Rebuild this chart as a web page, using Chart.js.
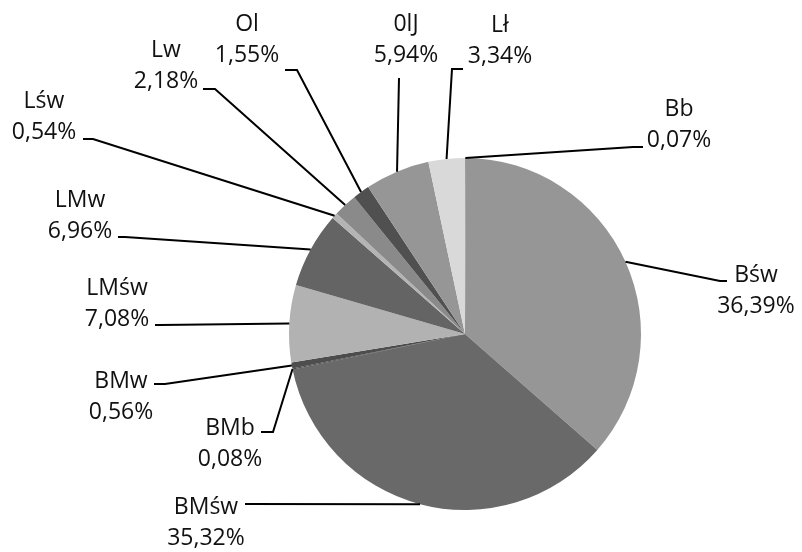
<!DOCTYPE html>
<html>
<head>
<meta charset="utf-8">
<script src="https://cdn.jsdelivr.net/npm/chart.js@4.4.1/dist/chart.umd.min.js"></script>
<style>
  html, body { margin: 0; padding: 0; background: #fff; }
  #wrap { width: 802px; height: 552px; }
</style>
</head>
<body>
<div id="wrap"><canvas id="pie" width="802" height="552"></canvas></div>
<script>
// ── data ──
const LABELS = ['Bb', 'Bśw', 'BMśw', 'BMb', 'BMw', 'LMśw', 'LMw', 'Lśw', 'Lw', 'Ol', '0lJ', 'Lł'];
const VALUES = [0.07, 36.39, 35.32, 0.08, 0.56, 7.08, 6.96, 0.54, 2.18, 1.55, 5.94, 3.34];
const COLORS = ['#7f7f7f', '#969696', '#696969', '#3f3f3f', '#4d4d4d', '#b2b2b2',
                '#646464', '#b4b4b4', '#8a8a8a', '#505050', '#969696', '#d9d9d9'];

// ── label layout: text centre x, first line y ──
const TEXT_POS = [
    [679, 109], [756, 275], [206, 507], [230, 428], [121, 381], [117, 288],
    [80, 200], [44, 101], [166, 50], [247, 24], [406, 24], [500, 25]
];
// leader start (near text) and elbow point; the line then runs to the slice
const LEADERS = [
    [643, 147, 633, 147], [727, 281, 720, 281], [245, 504, 245, 504],
    [261, 432, 273, 432], [154, 384, 165, 384], [155, 325, 160, 325],
    [118, 237, 125, 237], [83, 139, 93, 139], [203, 89, 215, 89],
    [285, 70, 297, 70], [399, 78, 399, 78], [463, 69, 452, 69]
];

const fmt = v => v.toFixed(2).replace('.', ',') + '%';

const leaderLabels = {
    id: 'leaderLabels',
    afterDraw(chart) {
        const ctx = chart.ctx;
        const meta = chart.getDatasetMeta(0);
        ctx.save();
        ctx.strokeStyle = '#000';
        ctx.lineWidth = 2;
        ctx.fillStyle = '#111';
        ctx.font = '23px "Open Sans"';
        ctx.textAlign = 'center';
        ctx.textBaseline = 'middle';
        meta.data.forEach((arc, i) => {
            const p = arc.getProps(['x', 'y', 'startAngle', 'endAngle', 'outerRadius'], true);
            const mid = (p.startAngle + p.endAngle) / 2;
            const ax = p.x + Math.cos(mid) * p.outerRadius;
            const ay = p.y + Math.sin(mid) * p.outerRadius;
            const l = LEADERS[i];
            ctx.beginPath();
            ctx.moveTo(l[0], l[1]);
            ctx.lineTo(l[2], l[3]);
            ctx.lineTo(ax, ay);
            ctx.stroke();
            const t = TEXT_POS[i];
            ctx.fillText(LABELS[i], t[0], t[1]);
            ctx.fillText(fmt(VALUES[i]), t[0], t[1] + 31);
        });
        ctx.restore();
    }
};

new Chart(document.getElementById('pie'), {
    type: 'pie',
    data: {
        labels: LABELS,
        datasets: [{
            data: VALUES,
            backgroundColor: COLORS,
            borderWidth: 0
        }]
    },
    options: {
        responsive: false,
        animation: false,
        layout: {
            padding: { left: 289, right: 161, top: 158, bottom: 42 }
        },
        plugins: {
            legend: { display: false },
            tooltip: { enabled: false }
        }
    },
    plugins: [leaderLabels]
});
</script>
</body>
</html>
